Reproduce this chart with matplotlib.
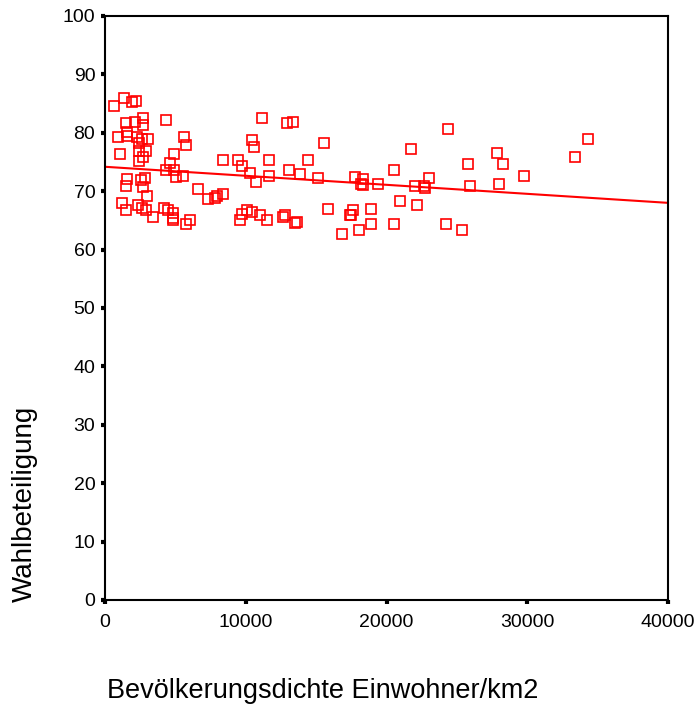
import numpy as np
import matplotlib.pyplot as plt

plt.rcParams['font.family'] = ['Liberation Sans', 'DejaVu Sans']

# Bevölkerungsdichte (Einwohner/km2) und Wahlbeteiligung (%)
dichte = [
    640, 1350, 1900, 2180, 1470, 2130, 2720, 2720, 4330, 1590,
    1590, 900, 2250, 2600, 3030, 5610, 5730, 2440, 1070, 2440,
    2890, 2720, 2440, 4930, 4640, 4310, 4930, 5020, 5520, 2840,
    1590, 1470, 2560, 2720, 2960, 6590, 7340, 1190, 1470, 2370,
    2600, 2890, 3430, 4190, 4500, 4800, 4850, 4800, 5730, 6040,
    7820, 11130, 12910, 13330, 10420, 10590, 15540, 8360, 9470, 9750,
    11680, 14440, 10300, 10730, 11680, 13050, 13850, 15130, 7980, 8360,
    10070, 9710, 10420, 9590, 11010, 11530, 12670, 12790, 13500, 13620,
    15820, 16820, 17400, 24390, 21740, 25760, 20530, 17760, 18310, 18160,
    18310, 19420, 22030, 22660, 22730, 23000, 25910, 20960, 22190, 17600,
    17480, 18870, 18870, 18050, 20530, 24230, 25360, 27830, 28260, 29770,
    28000, 33370, 34340,
]
wahl = [
    84.6, 86.0, 85.2, 85.5, 81.6, 81.9, 82.6, 81.3, 82.2, 80.2,
    79.5, 79.2, 79.2, 79.0, 78.9, 79.3, 77.9, 78.2, 76.4, 76.9,
    76.9, 75.8, 75.2, 76.4, 74.8, 73.7, 73.7, 72.5, 72.6, 72.3,
    72.1, 70.9, 71.9, 70.7, 69.2, 70.3, 68.7, 68.0, 66.7, 67.6,
    67.2, 66.7, 65.6, 67.1, 66.7, 66.3, 65.4, 65.1, 64.4, 65.0,
    68.8, 82.6, 81.6, 81.9, 78.7, 77.5, 78.3, 75.3, 75.3, 74.3,
    75.3, 75.3, 73.1, 71.6, 72.6, 73.6, 72.9, 72.3, 69.1, 69.6,
    66.8, 66.1, 66.4, 65.0, 66.0, 65.0, 65.6, 65.9, 64.5, 64.7,
    67.0, 62.7, 65.9, 80.6, 77.2, 74.6, 73.6, 72.4, 72.1, 71.2,
    71.0, 71.3, 70.9, 70.9, 70.5, 72.3, 70.9, 68.3, 67.6, 66.7,
    66.0, 67.0, 64.3, 63.3, 64.3, 64.3, 63.3, 76.6, 74.6, 72.6,
    71.3, 75.9, 78.9,
]

x = np.array(dichte, dtype=float)
y = np.array(wahl, dtype=float)
slope, intercept = np.polyfit(x, y, 1)

fig = plt.figure(figsize=(6.98, 7.04), dpi=100)
ax = fig.add_axes([105 / 698, 1 - 600 / 704, 563 / 698, 584 / 704])

ax.plot(x, y, linestyle="none", marker="s", markersize=6.5,
        markerfacecolor="none", markeredgecolor="#ff0000", markeredgewidth=1.2)

xs = np.array([0, 40000])
ax.plot(xs, intercept + slope * xs, color="#ff0000", linewidth=1.5)

ax.set_xlim(0, 40000)
ax.set_ylim(0, 100)
ax.set_xticks([0, 10000, 20000, 30000, 40000])
ax.set_yticks(np.arange(0, 101, 10))
ax.tick_params(direction="out", length=3, width=3, labelsize=14)
ax.tick_params(axis="y", pad=4)
ax.tick_params(axis="x", pad=7)
for s in ax.spines.values():
    s.set_linewidth(1.5)

ax.set_xlabel("Bevölkerungsdichte Einwohner/km2", fontsize=19.5)
ax.xaxis.set_label_coords(0.386, -0.134)
ax.set_ylabel("Wahlbeteiligung", fontsize=20)
ax.yaxis.set_label_coords(-0.119, 0.164)

fig.savefig("out.png", dpi=100)
